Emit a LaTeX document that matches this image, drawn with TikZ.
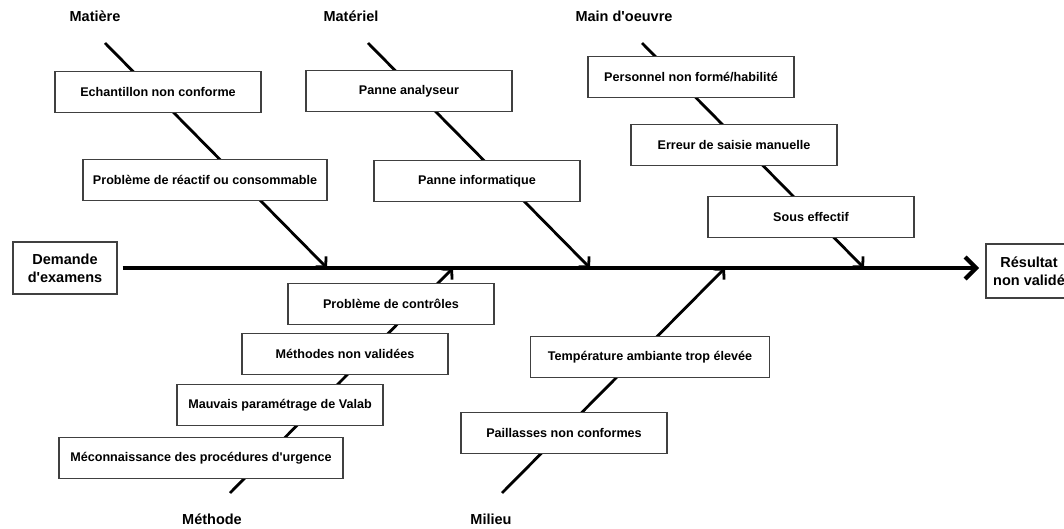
\documentclass[tikz,border=0pt]{standalone}
\usepackage{fontspec}
\setmainfont{Liberation Sans}
\usetikzlibrary{arrows.meta}

\begin{document}
\begin{tikzpicture}
	[x=1pt, y=-1pt,
	cause/.style={draw=black!75, line width=1.1pt, fill=white, minimum width=206pt, minimum height=41pt,
		inner xsep=10pt, font=\fontsize{12.6}{14}\selectfont\bfseries},
	branch/.style={font=\fontsize{14.5}{17}\selectfont\bfseries},
	effectbox/.style={draw=black!75, line width=1.1pt, fill=white, align=center, minimum width=104pt,
		minimum height=52pt, inner sep=2pt, font=\fontsize{14.5}{18}\selectfont\bfseries},
	bone/.style={line width=2.8pt, -{Straight Barb[length=7pt, width=15pt]}},
	spine/.style={line width=4.2pt, -{Straight Barb[length=11pt, width=22pt]}}]
	\useasboundingbox (0,0) rectangle (1064,529);

	% head and tail
	\node[effectbox] (demande) at (65,268) {Demande\\d\textquotesingle examens};
	\node[effectbox, minimum width=86pt, minimum height=54pt] (resultat) at (1029,271) {Résultat\\non validé};
	\coordinate (head) at (979,268);
	\draw[spine] ([xshift=5pt]demande.east) -- (head);

	% branch names
	\node[branch] (matiere) at (95,16) {Matière};
	\node[branch] (materiel) at (351,16) {Matériel};
	\node[branch] (mainoeuvre) at (624,16) {Main d\textquotesingle oeuvre};
	\node[branch] (methode) at (212,519) {Méthode};
	\node[branch] (milieu) at (491,519) {Milieu};

	% bones
	\coordinate (matiere-top) at (105,43);
	\coordinate (matiere-end) at (327,268);
	\coordinate (materiel-top) at (368,43);
	\coordinate (materiel-end) at (590,268);
	\coordinate (mainoeuvre-top) at (642,43);
	\coordinate (mainoeuvre-end) at (864,268);
	\coordinate (methode-bot) at (230,493);
	\coordinate (methode-end) at (453,268);
	\coordinate (milieu-bot) at (502,493);
	\coordinate (milieu-end) at (725,268);
	\draw[bone] (matiere-top) -- (matiere-end);
	\draw[bone] (materiel-top) -- (materiel-end);
	\draw[bone] (mainoeuvre-top) -- (mainoeuvre-end);
	\draw[bone] (methode-bot) -- (methode-end);
	\draw[bone] (milieu-bot) -- (milieu-end);

	% causes
	\node[cause] (echantillon) at (158,92) {Echantillon non conforme};
	\node[cause, minimum width=244pt] (reactif) at (205,180) {Problème de réactif ou consommable};
	\node[cause] (analyseur) at (409,91) {Panne analyseur};
	\node[cause] (informatique) at (477,181) {Panne informatique};
	\node[cause] (personnel) at (691,77) {Personnel non formé/habilité};
	\node[cause] (saisie) at (734,145) {Erreur de saisie manuelle};
	\node[cause] (effectif) at (811,217) {Sous effectif};
	\node[cause] (controles) at (391,304) {Problème de contrôles};
	\node[cause] (methodes) at (345,354) {Méthodes non validées};
	\node[cause] (valab) at (280,405) {Mauvais paramétrage de Valab};
	\node[cause, minimum width=284pt] (urgence) at (201,458) {Méconnaissance des procédures d\textquotesingle urgence};
	\node[cause, minimum width=239pt] (temperature) at (650,357) {Température ambiante trop élevée};
	\node[cause] (paillasses) at (564,433) {Paillasses non conformes};
\end{tikzpicture}
\end{document}
